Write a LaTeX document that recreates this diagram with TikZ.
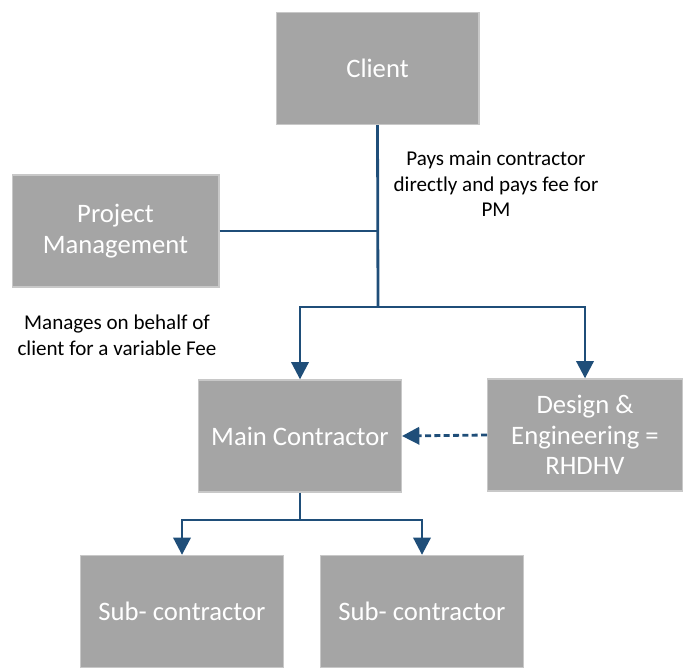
\documentclass[tikz,border=0pt]{standalone}
\usepackage{fontspec}
\setmainfont{Carlito}
\usetikzlibrary{arrows.meta}
\definecolor{boxfill}{HTML}{A5A5A5}
\definecolor{boxline}{HTML}{C8C8C8}
\definecolor{linkblue}{HTML}{1F4E79}
\begin{document}
\begin{tikzpicture}[x=0.75pt,y=-0.75pt,
  orgbox/.style={draw=boxline,line width=1pt,fill=boxfill,text=white,
    minimum width=152pt,minimum height=84pt,inner sep=0pt,align=center,
    font=\fontsize{20}{23}\selectfont},
  link/.style={draw=linkblue,line width=2.1pt},
  tip/.style={-{Triangle[width=13pt,length=13pt]}},
  note/.style={align=center,font=\fontsize{15.8}{19.3}\selectfont,inner sep=0pt}]
\useasboundingbox (0,0) rectangle (684,671);
\node[orgbox] (client) at (377.5,68.5) {Client};
\node[orgbox,minimum width=155pt] (pm) at (115.5,231) {Project\\Management};
\node[orgbox] (main) at (300,436) {Main Contractor};
\node[orgbox,minimum width=146pt] (design) at (585,435) {Design \&\\Engineering =\\RHDHV};
\node[orgbox] (sub1) at (182,611.5) {Sub- contractor};
\node[orgbox] (sub2) at (422,611.5) {Sub- contractor};
\coordinate (junction) at (378,307);
\coordinate (subjunction) at (300,520);
\node[note] (paynote) at (496,184) {Pays main contractor\\directly and pays fee for\\PM};
\node[note] (pmnote) at (117,335) {Manages on behalf of\\client for a variable Fee};
\draw[link] (client.south) -- (junction);
\draw[link] (pm.east) -- (pm.east -| junction);
\draw[link,tip] (junction) -| (main.north);
\draw[link,tip] (junction) -| (design.north);
\draw[link,tip,dash pattern=on 4.5pt off 2.5pt] (design.west) -- (main.east);
\draw[link] (main.south) -- (subjunction);
\draw[link,tip] (subjunction) -| (sub1.north);
\draw[link,tip] (subjunction) -| (sub2.north);
\end{tikzpicture}
\end{document}
